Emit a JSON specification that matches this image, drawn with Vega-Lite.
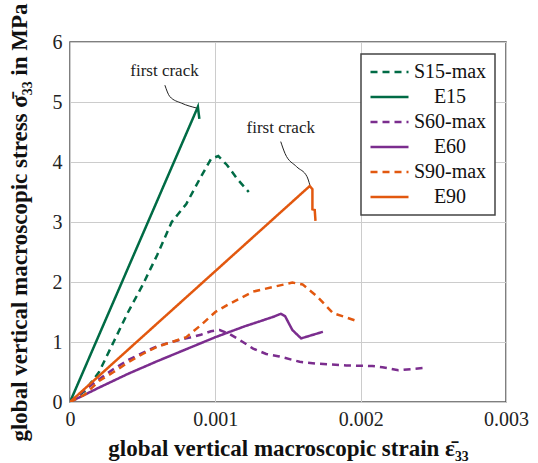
{
  "$schema": "https://vega.github.io/schema/vega-lite/v6.json",
  "width": 436,
  "height": 360,
  "autosize": "none",
  "padding": {"left": 70, "top": 42, "right": 32, "bottom": 61},
  "background": "white",
  "config": {
    "font": "Liberation Serif",
    "view": {"stroke": "#555555", "strokeWidth": 1.5},
    "axis": {"grid": true, "gridColor": "#cccccc", "gridWidth": 1, "domain": false, "ticks": false,
      "labelFont": "Liberation Serif", "labelFontSize": 20, "labelColor": "#222222",
      "titleFont": "Liberation Serif", "titleFontWeight": "bold", "titleColor": "#111111"}
  },
  "datasets": {
    "curves": [
      {"s": "S15-max", "i": 0, "x": 0, "y": 0},
      {"s": "S15-max", "i": 1, "x": 0.0001, "y": 0.18},
      {"s": "S15-max", "i": 2, "x": 0.0002, "y": 0.5},
      {"s": "S15-max", "i": 3, "x": 0.0003, "y": 1.0},
      {"s": "S15-max", "i": 4, "x": 0.0004, "y": 1.5},
      {"s": "S15-max", "i": 5, "x": 0.0005, "y": 1.95},
      {"s": "S15-max", "i": 6, "x": 0.0006, "y": 2.45},
      {"s": "S15-max", "i": 7, "x": 0.0007, "y": 3.0},
      {"s": "S15-max", "i": 8, "x": 0.00075, "y": 3.15},
      {"s": "S15-max", "i": 9, "x": 0.0008, "y": 3.3},
      {"s": "S15-max", "i": 10, "x": 0.0009, "y": 3.75},
      {"s": "S15-max", "i": 11, "x": 0.00097, "y": 4.05},
      {"s": "S15-max", "i": 12, "x": 0.00102, "y": 4.1},
      {"s": "S15-max", "i": 13, "x": 0.00108, "y": 3.95},
      {"s": "S15-max", "i": 14, "x": 0.00115, "y": 3.72},
      {"s": "S15-max", "i": 15, "x": 0.00123, "y": 3.5},
      {"s": "E15", "i": 0, "x": 0, "y": 0},
      {"s": "E15", "i": 1, "x": 0.00088, "y": 4.92},
      {"s": "E15", "i": 2, "x": 0.00089, "y": 4.72},
      {"s": "S60-max", "i": 0, "x": 0, "y": 0},
      {"s": "S60-max", "i": 1, "x": 0.0001, "y": 0.2},
      {"s": "S60-max", "i": 2, "x": 0.0002, "y": 0.38},
      {"s": "S60-max", "i": 3, "x": 0.0003, "y": 0.55},
      {"s": "S60-max", "i": 4, "x": 0.0004, "y": 0.7},
      {"s": "S60-max", "i": 5, "x": 0.0005, "y": 0.82},
      {"s": "S60-max", "i": 6, "x": 0.0006, "y": 0.93},
      {"s": "S60-max", "i": 7, "x": 0.0007, "y": 1.0},
      {"s": "S60-max", "i": 8, "x": 0.0008, "y": 1.06},
      {"s": "S60-max", "i": 9, "x": 0.0009, "y": 1.12},
      {"s": "S60-max", "i": 10, "x": 0.00097, "y": 1.18},
      {"s": "S60-max", "i": 11, "x": 0.00103, "y": 1.2},
      {"s": "S60-max", "i": 12, "x": 0.0011, "y": 1.13},
      {"s": "S60-max", "i": 13, "x": 0.00117, "y": 1.03},
      {"s": "S60-max", "i": 14, "x": 0.00126, "y": 0.89},
      {"s": "S60-max", "i": 15, "x": 0.00135, "y": 0.8},
      {"s": "S60-max", "i": 16, "x": 0.00144, "y": 0.76},
      {"s": "S60-max", "i": 17, "x": 0.00158, "y": 0.67},
      {"s": "S60-max", "i": 18, "x": 0.0017, "y": 0.64},
      {"s": "S60-max", "i": 19, "x": 0.0019, "y": 0.61},
      {"s": "S60-max", "i": 20, "x": 0.00208, "y": 0.6},
      {"s": "S60-max", "i": 21, "x": 0.00215, "y": 0.58},
      {"s": "S60-max", "i": 22, "x": 0.00226, "y": 0.53},
      {"s": "S60-max", "i": 23, "x": 0.00245, "y": 0.57},
      {"s": "E60", "i": 0, "x": 0, "y": 0},
      {"s": "E60", "i": 1, "x": 0.0002, "y": 0.24},
      {"s": "E60", "i": 2, "x": 0.0004, "y": 0.47},
      {"s": "E60", "i": 3, "x": 0.0006, "y": 0.68},
      {"s": "E60", "i": 4, "x": 0.0008, "y": 0.88},
      {"s": "E60", "i": 5, "x": 0.001, "y": 1.08},
      {"s": "E60", "i": 6, "x": 0.0012, "y": 1.26},
      {"s": "E60", "i": 7, "x": 0.0014, "y": 1.42},
      {"s": "E60", "i": 8, "x": 0.00145, "y": 1.47},
      {"s": "E60", "i": 9, "x": 0.00148, "y": 1.43},
      {"s": "E60", "i": 10, "x": 0.00153, "y": 1.2},
      {"s": "E60", "i": 11, "x": 0.00159, "y": 1.06},
      {"s": "E60", "i": 12, "x": 0.00174, "y": 1.17},
      {"s": "S90-max", "i": 0, "x": 0, "y": 0},
      {"s": "S90-max", "i": 1, "x": 0.0001, "y": 0.12},
      {"s": "S90-max", "i": 2, "x": 0.0002, "y": 0.35},
      {"s": "S90-max", "i": 3, "x": 0.0003, "y": 0.5},
      {"s": "S90-max", "i": 4, "x": 0.0004, "y": 0.66},
      {"s": "S90-max", "i": 5, "x": 0.0005, "y": 0.8},
      {"s": "S90-max", "i": 6, "x": 0.0006, "y": 0.92},
      {"s": "S90-max", "i": 7, "x": 0.0007, "y": 1.0},
      {"s": "S90-max", "i": 8, "x": 0.0008, "y": 1.08},
      {"s": "S90-max", "i": 9, "x": 0.0009, "y": 1.28},
      {"s": "S90-max", "i": 10, "x": 0.001, "y": 1.5},
      {"s": "S90-max", "i": 11, "x": 0.0011, "y": 1.64},
      {"s": "S90-max", "i": 12, "x": 0.00126, "y": 1.84},
      {"s": "S90-max", "i": 13, "x": 0.00142, "y": 1.93},
      {"s": "S90-max", "i": 14, "x": 0.00153, "y": 1.99},
      {"s": "S90-max", "i": 15, "x": 0.0016, "y": 1.96},
      {"s": "S90-max", "i": 16, "x": 0.0017, "y": 1.76},
      {"s": "S90-max", "i": 17, "x": 0.00181, "y": 1.48},
      {"s": "S90-max", "i": 18, "x": 0.0019, "y": 1.41},
      {"s": "S90-max", "i": 19, "x": 0.00196, "y": 1.36},
      {"s": "E90", "i": 0, "x": 0, "y": 0},
      {"s": "E90", "i": 1, "x": 0.00165, "y": 3.6},
      {"s": "E90", "i": 2, "x": 0.001668, "y": 3.545},
      {"s": "E90", "i": 3, "x": 0.001668, "y": 3.21},
      {"s": "E90", "i": 4, "x": 0.001684, "y": 3.2},
      {"s": "E90", "i": 5, "x": 0.001689, "y": 3.02}
    ],
    "arrows": [
      {"a": "a1", "i": 0, "x": 0.000653, "y": 5.28},
      {"a": "a1", "i": 1, "x": 0.000687, "y": 5.09},
      {"a": "a1", "i": 2, "x": 0.000768, "y": 4.98},
      {"a": "a1", "i": 3, "x": 0.000871, "y": 4.9},
      {"a": "a2", "i": 0, "x": 0.00145, "y": 4.34},
      {"a": "a2", "i": 1, "x": 0.00148, "y": 4.14},
      {"a": "a2", "i": 2, "x": 0.00156, "y": 3.92},
      {"a": "a2", "i": 3, "x": 0.00163, "y": 3.76},
      {"a": "a2", "i": 4, "x": 0.00165, "y": 3.62}
    ],
    "notes": [
      {"t": "first crack", "x": 0.00065, "y": 5.52},
      {"t": "first crack", "x": 0.00145, "y": 4.57}
    ]
  },
  "layer": [
    {
      "data": {"name": "curves"},
      "mark": {"type": "line", "strokeWidth": 2.5, "clip": true},
      "encoding": {
        "x": {"field": "x", "type": "quantitative",
          "scale": {"domain": [0, 0.003], "nice": false},
          "axis": {"values": [0, 0.001, 0.002, 0.003], "labelExpr": "datum.value == 0 ? '0' : format(datum.value, '.3f')",
            "labelPadding": 7, "labelFlush": false, "title": "global vertical macroscopic strain ε̄₃₃",
            "titleFontSize": 23, "titleY": 53, "titleBaseline": "alphabetic"}},
        "y": {"field": "y", "type": "quantitative",
          "scale": {"domain": [0, 6], "nice": false},
          "axis": {"values": [0, 1, 2, 3, 4, 5, 6], "format": "d", "labelPadding": 8, "labelFlush": false,
            "title": "global vertical macroscopic stress σ̄₃₃ in MPa", "titleFontSize": 23,
            "titleX": -44, "titleY": 180, "titleAngle": -90, "titleAlign": "center", "titleBaseline": "alphabetic"}},
        "color": {"field": "s", "type": "nominal",
          "scale": {"domain": ["S15-max", "E15", "S60-max", "E60", "S90-max", "E90"],
            "range": ["#006b45", "#006b45", "#7b2d8e", "#7b2d8e", "#e2580f", "#e2580f"]},
          "legend": {"title": null, "orient": "none", "legendX": 291, "legendY": 12,
            "strokeColor": "#444444", "fillColor": "white", "padding": 8,
            "symbolType": "stroke", "symbolSize": 1444, "symbolStrokeWidth": 2.5, "clipHeight": 20,
            "labelFont": "Liberation Serif", "labelFontSize": 20, "labelColor": "#111111",
            "labelAlign": "center", "labelOffset": 40, "rowPadding": 5, "labelLimit": 200,
            "encode": {"legend": {"update": {"strokeWidth": {"value": 1.5}}}}}},
        "strokeDash": {"field": "s", "type": "nominal",
          "scale": {"domain": ["S15-max", "E15", "S60-max", "E60", "S90-max", "E90"],
            "range": [[7, 5], [1, 0], [7, 5], [1, 0], [7, 5], [1, 0]]}},
        "order": {"field": "i", "type": "quantitative"}
      }
    },
    {
      "data": {"name": "arrows"},
      "mark": {"type": "line", "color": "#222222", "strokeWidth": 1, "interpolate": "monotone"},
      "encoding": {
        "x": {"field": "x", "type": "quantitative"},
        "y": {"field": "y", "type": "quantitative"},
        "detail": {"field": "a"},
        "order": {"field": "i", "type": "quantitative"}
      }
    },
    {
      "data": {"name": "notes"},
      "mark": {"type": "text", "font": "Liberation Serif", "fontSize": 17, "color": "#222222"},
      "encoding": {
        "x": {"field": "x", "type": "quantitative"},
        "y": {"field": "y", "type": "quantitative"},
        "text": {"field": "t"}
      }
    }
  ]
}
